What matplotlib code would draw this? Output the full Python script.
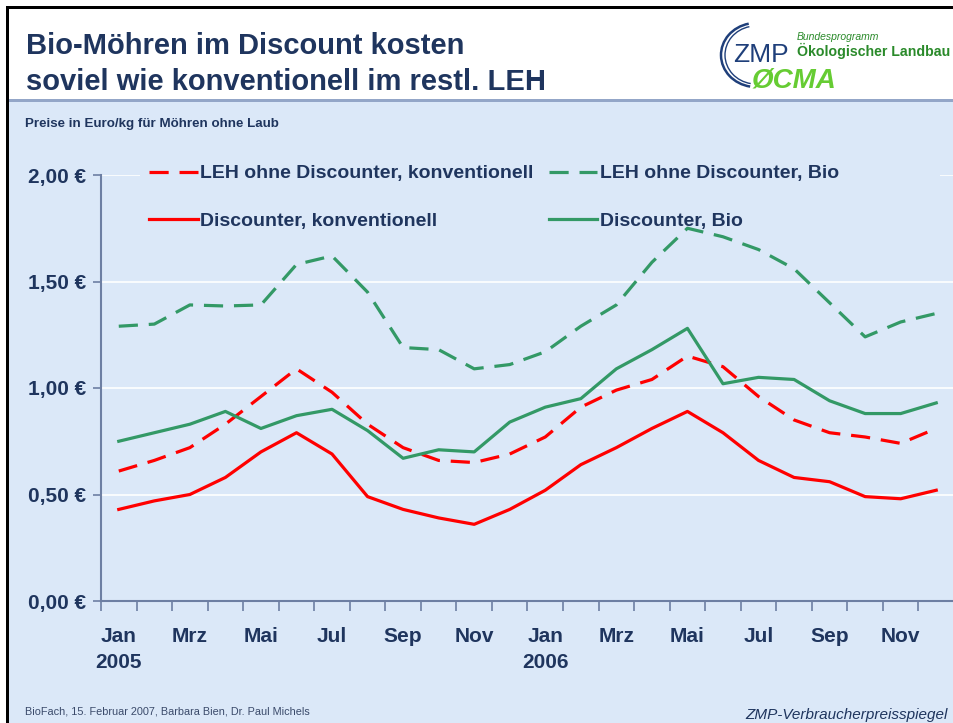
import matplotlib
matplotlib.use("Agg")
import matplotlib.pyplot as plt
from matplotlib.patches import Rectangle, Arc
from matplotlib.ticker import FixedLocator, FuncFormatter

plt.rcParams['font.family'] = ['Liberation Sans', 'DejaVu Sans']

# ---------------- data ----------------
months = ["Jan", "Feb", "Mrz", "Apr", "Mai", "Jun", "Jul", "Aug", "Sep", "Okt", "Nov", "Dez"] * 2
years = ["2005"] * 12 + ["2006"] * 12
tick_labels = ["Jan\n2005", "Mrz", "Mai", "Jul", "Sep", "Nov",
               "Jan\n2006", "Mrz", "Mai", "Jul", "Sep", "Nov"]

leh_konv = [0.61, 0.66, 0.72, 0.83, 0.96, 1.09, 0.98, 0.83, 0.72, 0.66, 0.65, 0.69,
            0.77, 0.91, 0.99, 1.04, 1.15, 1.10, 0.96, 0.85, 0.79, 0.77, 0.74, 0.81]
leh_bio = [1.29, 1.30, 1.39, 1.385, 1.39, 1.58, 1.62, 1.45, 1.19, 1.18, 1.09, 1.11,
           1.17, 1.29, 1.39, 1.59, 1.75, 1.71, 1.65, 1.56, 1.40, 1.24, 1.31, 1.35]
disc_konv = [0.43, 0.47, 0.50, 0.58, 0.70, 0.79, 0.69, 0.49, 0.43, 0.39, 0.36, 0.43,
             0.52, 0.64, 0.72, 0.81, 0.89, 0.79, 0.66, 0.58, 0.56, 0.49, 0.48, 0.52]
disc_bio = [0.75, 0.79, 0.83, 0.89, 0.81, 0.87, 0.90, 0.80, 0.67, 0.71, 0.70, 0.84,
            0.91, 0.95, 1.09, 1.18, 1.28, 1.02, 1.05, 1.04, 0.94, 0.88, 0.88, 0.93]

series_labels = ["LEH ohne Discounter, konventionell", "Discounter, konventionell",
                 "LEH ohne Discounter, Bio", "Discounter, Bio"]

# ---------------- style ----------------
BG = "#dbe8f8"
NAVY = "#1f355e"
RED = "#ff0000"
GREEN = "#339966"
SPINE = "#6d7fa3"

W, H = 954, 723
fig = plt.figure(figsize=(W / 100, H / 100), dpi=100)
fig.patch.set_facecolor("white")

def fx(px):
    return px / W

def fy(py):
    return 1 - py / H

# background panels
fig.patches.append(Rectangle((fx(9), 0), 1 - fx(9), fy(101), transform=fig.transFigure,
                             facecolor=BG, edgecolor="none", zorder=-10))
fig.patches.append(Rectangle((fx(9), fy(102)), 1 - fx(9), fy(99) - fy(102), transform=fig.transFigure,
                             facecolor="#93a6c8", edgecolor="none", zorder=-9))
# black border (left and top)
fig.patches.append(Rectangle((fx(6), 0), fx(3), fy(6), transform=fig.transFigure,
                             facecolor="black", edgecolor="none", zorder=-8))
fig.patches.append(Rectangle((fx(6), fy(9)), 1 - fx(6), fy(6) - fy(9), transform=fig.transFigure,
                             facecolor="black", edgecolor="none", zorder=-8))

# title
fig.text(fx(26), fy(54), "Bio-Möhren im Discount kosten", fontsize=21, fontweight="bold",
         color=NAVY, ha="left", va="baseline")
fig.text(fx(26), fy(90), "soviel wie konventionell im restl. LEH", fontsize=21, fontweight="bold",
         color=NAVY, ha="left", va="baseline")
fig.text(fx(25), fy(127), "Preise in Euro/kg für Möhren ohne Laub", fontsize=9.6, fontweight="bold",
         color=NAVY, ha="left", va="baseline")

# logo
fig.text(fx(733), fy(62), "ZMP", fontsize=19, color="#1f3f7a", ha="left", va="baseline")
for (w, h, lw) in [(70, 64, 1.8), (62, 58, 1.0)]:
    fig.patches.append(Arc((fx(756), fy(55)), w / W, h / H,
                           theta1=100, theta2=262, transform=fig.transFigure,
                           color="#1f3f7a", lw=lw))
fig.text(fx(797), fy(40), "Bundesprogramm", fontsize=7.5, style="italic", color="#2a8a2a",
         ha="left", va="baseline")
fig.text(fx(797), fy(56), "Ökologischer Landbau", fontsize=10.2, fontweight="bold", color="#2a8a2a",
         ha="left", va="baseline")
fig.text(fx(752), fy(87), "ØCMA", fontsize=20, fontweight="bold", style="italic", color="#66cc33",
         ha="left", va="baseline")

# footer
fig.text(fx(25), fy(714), "BioFach, 15. Februar 2007, Barbara Bien, Dr. Paul Michels", fontsize=7.8,
         color="#3a4a6a", ha="left", va="baseline")
fig.text(fx(745), fy(719), "ZMP-Verbraucherpreisspiegel", fontsize=11, style="italic",
         color=NAVY, ha="left", va="baseline")

# ---------------- axes ----------------
ax = fig.add_axes([fx(101), fy(601), 1 - fx(101), fy(175) - fy(601)])
ax.set_facecolor(BG)
x = list(range(len(months)))

dash = (6, 3.4)
ax.plot(x, leh_konv, color=RED, lw=2.3, dashes=dash, label=series_labels[0], zorder=3)
ax.plot(x, disc_konv, color=RED, lw=2.3, label=series_labels[1], zorder=3)
ax.plot(x, leh_bio, color=GREEN, lw=2.3, dashes=dash, label=series_labels[2], zorder=3)
ax.plot(x, disc_bio, color=GREEN, lw=2.3, label=series_labels[3], zorder=3)

ax.set_xlim(-0.5, 23.5)
ax.set_ylim(0, 2.0)

ax.yaxis.set_major_locator(FixedLocator([0, 0.5, 1.0, 1.5, 2.0]))
ax.yaxis.set_major_formatter(FuncFormatter(lambda v, p: f"{v:.2f} €".replace(".", ",")))
ax.grid(axis="y", color="white", lw=1.2, zorder=1)
ax.set_axisbelow(True)

# legend area box (covers the top gridline like the original legend frame)
ax.add_patch(Rectangle(((140 - 101) / 853, 0.94), (940 - 140) / 853, 0.1,
                       transform=ax.transAxes, facecolor=BG, edgecolor="none",
                       zorder=1.5, clip_on=False))

ax.xaxis.set_major_locator(FixedLocator(list(range(0, 24, 2))))
ax.set_xticklabels(tick_labels)
ax.xaxis.set_minor_locator(FixedLocator([i - 0.5 for i in range(25)]))
ax.tick_params(axis="x", which="major", length=0, pad=19, labelsize=15, labelcolor=NAVY)
ax.tick_params(axis="x", which="minor", length=7, width=1.2, color=SPINE, direction="out")
ax.tick_params(axis="y", which="major", length=6, width=1.2, color=SPINE, direction="out",
               pad=4.5, labelsize=15, labelcolor=NAVY)
for lab in ax.get_xticklabels():
    lab.set_fontweight("bold")
    lab.set_linespacing(1.45)
    lab.set_verticalalignment("top")
for lab in ax.get_yticklabels():
    lab.set_fontweight("bold")

for s in ["top", "right"]:
    ax.spines[s].set_visible(False)
for s in ["left", "bottom"]:
    ax.spines[s].set_color(SPINE)
    ax.spines[s].set_linewidth(1.5)

leg = ax.legend(ncol=2, loc="upper left", bbox_to_anchor=(0.038, 1.0605),
                frameon=False, prop={"weight": "bold", "size": 14}, handlelength=2.5,
                handletextpad=0.12, columnspacing=0.8, labelspacing=1.55, borderpad=0.3)
leg.set_zorder(2)
for t in leg.get_texts():
    t.set_color(NAVY)

fig.savefig("out.png", dpi=100, facecolor=fig.get_facecolor())
